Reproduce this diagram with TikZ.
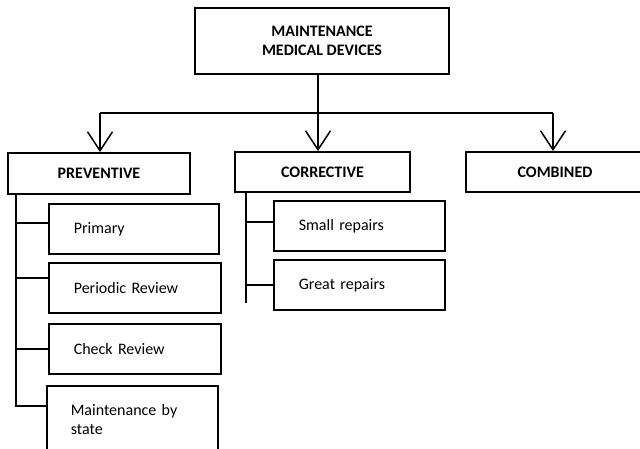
\documentclass[tikz,border=0pt]{standalone}
\usepackage{fontspec}
\setmainfont{Carlito}
\usetikzlibrary{arrows.meta, positioning, calc}

\begin{document}
\begin{tikzpicture}[x=1pt, y=-1pt,
  head/.style={draw, line width=1.8pt, minimum width=182pt, minimum height=41pt,
               inner sep=0pt, align=center, font=\fontsize{16}{19}\selectfont\bfseries},
  sub/.style={draw, line width=1.6pt, anchor=north west, minimum height=50pt,
              text width=122pt, inner xsep=25pt, inner ysep=0pt, align=left,
              font=\fontsize{16}{19}\selectfont},
  link/.style={line width=1.7pt},
  arr/.style={link, -{Straight Barb[length=19pt, width=25pt, line width=1.5pt]}}
]
  \useasboundingbox (0,0) rectangle (640,449);
  \clip (0,0) rectangle (640,449);

  % root and the three kinds
  \node[head, minimum width=254pt, minimum height=66pt] (root) at (322,41)
    {MAINTENANCE\\MEDICAL DEVICES};
  \node[head] (prev) at (99,173.5) {PREVENTIVE};
  \node[head, minimum width=175pt, minimum height=40pt] (corr) at (322.5,172) {CORRECTIVE};
  \node[head, minimum width=178pt, minimum height=40pt] (comb) at (555,172) {COMBINED};

  % sub boxes
  \node[sub, text width=120pt] (prim) at (48,203) {Primary};
  \node[sub] (peri) at (48,262) {Periodic Review};
  \node[sub] (chk) at (48,323) {Check Review};
  \node[sub, minimum height=68pt, inner xsep=24pt, text width=123pt] (st) at (46,385)
    {Maintenance by state};
  \node[sub, text width=121pt] (small) at (273,200) {Small repairs};
  \node[sub, text width=121pt] (great) at (273,259) {Great repairs};

  % bus from the root
  \coordinate (busL) at (100,113);
  \coordinate (busM) at (318,113);
  \coordinate (busR) at (553,113);
  \draw[link] (root.south -| busM) -- (busM);
  \draw[link] (busL) -- (busR);
  \draw[arr] (busL) -- (busL |- prev.north);
  \draw[arr] (busM) -- (busM |- corr.north);
  \draw[arr] (busR) -- (busR |- comb.north);

  % preventive branches
  \coordinate (pv) at (16,0);
  \draw[link] (prev.south -| pv) |- ([yshift=-21pt]st.north west);
  \draw[link] (pv |- prim.west) ++(0,-6) -- ++(32,0);
  \draw[link] (pv |- peri.west) ++(0,-10) -- ++(32,0);
  \draw[link] (pv |- chk.west) -- (chk.west);

  % corrective branches
  \coordinate (cv) at (246,303);
  \draw[link] (corr.south -| cv) -- (cv);
  \draw[link] (cv |- small.west) ++(0,-4) -- ++(27,0);
  \draw[link] (cv |- great.west) -- (great.west);
\end{tikzpicture}
\end{document}
